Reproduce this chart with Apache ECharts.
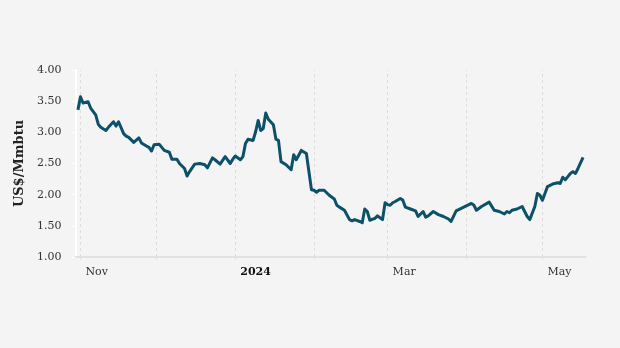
<!DOCTYPE html>
<html>
<head>
<meta charset="utf-8">
<script src="https://cdn.jsdelivr.net/npm/echarts@6/dist/echarts.min.js"></script>
<style>
  html, body { margin: 0; padding: 0; background: #f4f4f4; }
  #chart { width: 620px; height: 348px; }
</style>
</head>
<body>
<div id="chart"></div>
<script>
// Natural gas price, US$/Mmbtu
const dates = [
  '2023-10-31','2023-11-01','2023-11-02','2023-11-04','2023-11-05','2023-11-07','2023-11-08','2023-11-09',
  '2023-11-11','2023-11-12','2023-11-14','2023-11-15','2023-11-16','2023-11-18','2023-11-19','2023-11-20',
  '2023-11-22','2023-11-24','2023-11-25','2023-11-27','2023-11-28','2023-11-29','2023-11-30','2023-12-02',
  '2023-12-04','2023-12-06','2023-12-07','2023-12-09','2023-12-10','2023-12-12','2023-12-13','2023-12-14',
  '2023-12-16','2023-12-18','2023-12-20','2023-12-21','2023-12-23','2023-12-24','2023-12-26','2023-12-28',
  '2023-12-30','2023-12-31','2024-01-01','2024-01-03','2024-01-04','2024-01-05','2024-01-06','2024-01-08',
  '2024-01-09','2024-01-10','2024-01-11','2024-01-12','2024-01-13','2024-01-14','2024-01-16','2024-01-17',
  '2024-01-18','2024-01-19','2024-01-21','2024-01-23','2024-01-24','2024-01-25','2024-01-27','2024-01-29',
  '2024-01-31','2024-02-01','2024-02-02','2024-02-03','2024-02-05','2024-02-07','2024-02-09','2024-02-10',
  '2024-02-11','2024-02-13','2024-02-15','2024-02-16','2024-02-17','2024-02-19','2024-02-20','2024-02-21',
  '2024-02-22','2024-02-23','2024-02-25','2024-02-26','2024-02-27','2024-02-28','2024-02-29','2024-03-01',
  '2024-03-02','2024-03-03','2024-03-04','2024-03-06','2024-03-07','2024-03-08','2024-03-10','2024-03-12',
  '2024-03-13','2024-03-15','2024-03-16','2024-03-17','2024-03-19','2024-03-21','2024-03-23','2024-03-25',
  '2024-03-26','2024-03-28','2024-03-30','2024-04-01','2024-04-03','2024-04-04','2024-04-05','2024-04-07',
  '2024-04-10','2024-04-12','2024-04-14','2024-04-16','2024-04-17','2024-04-18','2024-04-19','2024-04-21',
  '2024-04-23','2024-04-25','2024-04-26','2024-04-28','2024-04-29','2024-04-30','2024-05-01','2024-05-03',
  '2024-05-05','2024-05-07','2024-05-08','2024-05-09','2024-05-10','2024-05-11','2024-05-12','2024-05-13',
  '2024-05-14','2024-05-15','2024-05-17'
];

const prices = [
  3.36, 3.57, 3.47, 3.49, 3.39, 3.28, 3.13, 3.08,
  3.03, 3.08, 3.17, 3.10, 3.17, 2.98, 2.94, 2.92,
  2.84, 2.91, 2.83, 2.78, 2.76, 2.70, 2.80, 2.81,
  2.71, 2.68, 2.57, 2.57, 2.50, 2.42, 2.30, 2.37,
  2.49, 2.50, 2.48, 2.43, 2.59, 2.56, 2.49, 2.61,
  2.50, 2.57, 2.62, 2.56, 2.61, 2.82, 2.89, 2.87,
  3.01, 3.19, 3.03, 3.06, 3.31, 3.21, 3.12, 2.89,
  2.87, 2.53, 2.48, 2.40, 2.64, 2.56, 2.71, 2.66,
  2.08, 2.07, 2.04, 2.07, 2.07, 1.99, 1.93, 1.83,
  1.80, 1.75, 1.60, 1.58, 1.60, 1.57, 1.55, 1.77,
  1.73, 1.59, 1.62, 1.66, 1.63, 1.60, 1.87, 1.84,
  1.83, 1.87, 1.89, 1.94, 1.91, 1.80, 1.77, 1.74,
  1.65, 1.73, 1.64, 1.66, 1.73, 1.68, 1.65, 1.61,
  1.57, 1.74, 1.78, 1.82, 1.86, 1.83, 1.75, 1.81,
  1.88, 1.75, 1.73, 1.69, 1.73, 1.71, 1.75, 1.77,
  1.81, 1.65, 1.60, 1.81, 2.02, 1.99, 1.91, 2.13,
  2.17, 2.19, 2.18, 2.28, 2.24, 2.29, 2.34, 2.37,
  2.34, 2.42, 2.60
];

// Month boundaries (dashed guides + ticks) and the labelled ones
const monthStarts = ['2023-11-01','2023-12-01','2024-01-01','2024-02-01','2024-03-01','2024-04-01','2024-05-01'];
const labelledMonths = ['2023-11-01','2024-01-01','2024-03-01','2024-05-01'];
const monthNames = ['Jan','Feb','Mar','Apr','May','Jun','Jul','Aug','Sep','Oct','Nov','Dec'];
const yTicks = [1, 1.5, 2, 2.5, 3, 3.5, 4];

const ts = s => { const p = s.split('-').map(Number); return Date.UTC(p[0], p[1] - 1, p[2]); };
const seriesData = dates.map((d, i) => [ts(d), prices[i]]);

const FONT = "'DejaVu Serif', serif";
const chart = echarts.init(document.getElementById('chart'), null, { renderer: 'canvas' });

chart.setOption({
  backgroundColor: '#f4f4f4',
  animation: false,
  grid: { left: 75.4, right: 34.4, top: 70, bottom: 91, containLabel: false },
  xAxis: {
    type: 'value',
    min: ts('2023-10-30'),
    max: ts('2024-05-18'),
    axisLine: { show: true, lineStyle: { color: '#e2e2e2', width: 2 } },
    axisTick: {
      show: true,
      customValues: monthStarts.map(ts),
      length: 3,
      lineStyle: { color: '#e2e2e2', width: 1 }
    },
    splitLine: { show: false },
    axisLabel: {
      customValues: labelledMonths.map(ts),
      margin: 10,
      align: 'left',
      padding: [0, 0, 0, 5],
      fontFamily: FONT,
      fontSize: 11,
      color: '#333',
      formatter: function (v) {
        const d = new Date(v);
        if (d.getUTCMonth() === 0) return '{yr|' + d.getUTCFullYear() + '}';
        return monthNames[d.getUTCMonth()];
      },
      rich: {
        yr: { fontFamily: FONT, fontSize: 11, fontWeight: 'bold', color: '#111' }
      }
    }
  },
  yAxis: {
    type: 'value',
    min: 1,
    max: 4,
    interval: 0.5,
    name: 'US$/Mmbtu',
    nameLocation: 'middle',
    nameGap: 46,
    nameTextStyle: { fontFamily: FONT, fontSize: 13, fontWeight: 'bold', color: '#222' },
    axisLine: { show: true, lineStyle: { color: '#ffffff', width: 2 } },
    axisTick: { show: true, length: 4, lineStyle: { color: '#ffffff', width: 1 } },
    splitLine: { show: false },
    axisLabel: {
      margin: 14,
      fontFamily: FONT,
      fontSize: 11,
      color: '#333',
      formatter: v => yTicks.includes(v) ? v.toFixed(2) : ''
    }
  },
  series: [{
    type: 'line',
    data: seriesData,
    showSymbol: false,
    symbol: 'none',
    lineStyle: { color: '#0c5069', width: 3, join: 'round' },
    z: 3,
    markLine: {
      silent: true,
      symbol: 'none',
      label: { show: false },
      lineStyle: { color: '#dddddd', type: [3, 3], width: 1 },
      data: monthStarts.map(m => ({ xAxis: ts(m) })),
      z: 1
    }
  }]
});
</script>
</body>
</html>
